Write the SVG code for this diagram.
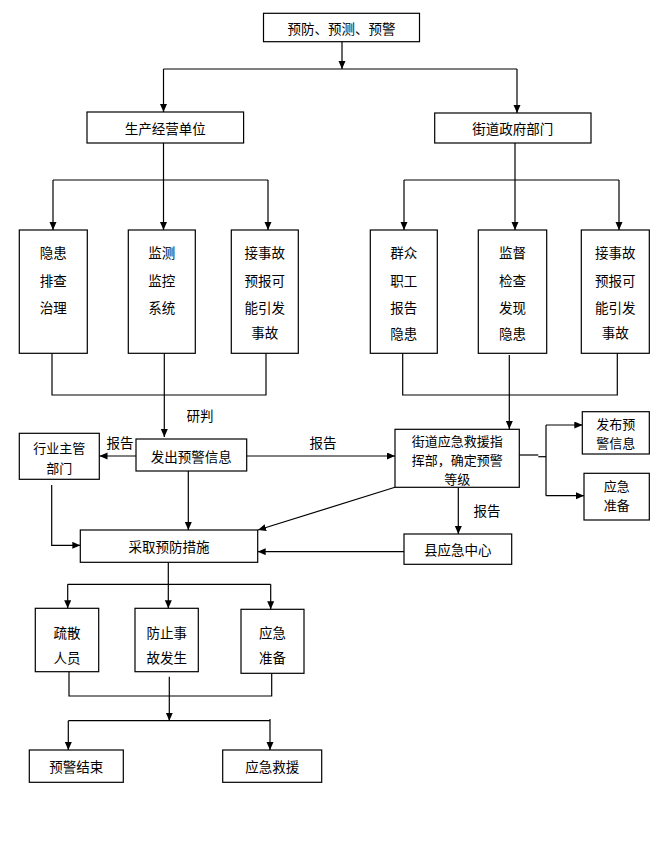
<svg xmlns="http://www.w3.org/2000/svg" width="664" height="866" viewBox="0 0 664 866">
<defs>
<marker id="arr" markerUnits="userSpaceOnUse" markerWidth="8" markerHeight="8" refX="8" refY="3.5" orient="auto">
<path d="M0,0 L8,3.5 L0,7 z" fill="#000"/>
</marker>
<style>
rect{fill:#fff;stroke:#000;stroke-width:1.2}
text{font-family:"Noto Sans CJK SC","Noto Sans",sans-serif;font-size:13.5px;fill:#000;text-anchor:middle;dominant-baseline:central}
text.s{font-size:13px}
.c line,.c polyline{stroke:#000;stroke-width:1.2;fill:none}
.a{marker-end:url(#arr)}
</style>
</defs>
<rect x="0" y="0" width="664" height="866" style="stroke:none"/>
<g id="connectors" class="c">
<line class="a" x1="342" y1="41" x2="342" y2="69"/>
<line x1="163.5" y1="69" x2="517" y2="69"/>
<line class="a" x1="163.5" y1="69" x2="163.5" y2="112"/>
<line class="a" x1="517" y1="69" x2="517" y2="113"/>
<line x1="163.5" y1="143" x2="163.5" y2="180"/>
<line x1="53" y1="180" x2="268" y2="180"/>
<line class="a" x1="53" y1="180" x2="53" y2="230"/>
<line class="a" x1="163.5" y1="180" x2="163.5" y2="230"/>
<line class="a" x1="268" y1="180" x2="268" y2="230"/>
<line x1="515" y1="143" x2="515" y2="180"/>
<line x1="404" y1="180" x2="619" y2="180"/>
<line class="a" x1="404" y1="180" x2="404" y2="230"/>
<line class="a" x1="515" y1="180" x2="515" y2="230"/>
<line class="a" x1="619" y1="180" x2="619" y2="230"/>
<polyline points="52,353 52,395 266,395 266,353"/>
<line class="a" x1="164.3" y1="353" x2="164.3" y2="437"/>
<polyline points="402.7,353 402.7,395 617.3,395 617.3,353"/>
<line class="a" x1="509.3" y1="355" x2="509.3" y2="429"/>
<line class="a" x1="136" y1="456" x2="99.5" y2="456"/>
<line class="a" x1="246.7" y1="456" x2="395" y2="456"/>
<line class="a" x1="188.3" y1="471" x2="188.3" y2="530"/>
<polyline class="a" points="51.7,485 51.7,545.3 80.3,545.3"/>
<line class="a" x1="395" y1="487.3" x2="258" y2="530"/>
<line class="a" x1="404" y1="551.7" x2="257.7" y2="551.7"/>
<line class="a" x1="458.3" y1="487.3" x2="458.3" y2="534"/>
<line x1="519.3" y1="455" x2="538.3" y2="455"/>
<line x1="538.3" y1="456.7" x2="546" y2="456.7"/>
<line x1="546" y1="425" x2="546" y2="495.7"/>
<line class="a" x1="546" y1="425" x2="582.3" y2="425"/>
<line class="a" x1="546" y1="495.7" x2="584" y2="495.7"/>
<line x1="168.3" y1="562.3" x2="168.3" y2="584.3"/>
<line x1="67.7" y1="584.3" x2="270.7" y2="584.3"/>
<line class="a" x1="67.7" y1="584.3" x2="67.7" y2="608.3"/>
<line class="a" x1="168.3" y1="584.3" x2="168.3" y2="608.3"/>
<line class="a" x1="270.7" y1="584.3" x2="270.7" y2="609.3"/>
<polyline points="69,672 69,696 271.7,696 271.7,673.3"/>
<line class="a" x1="169.3" y1="676.7" x2="169.3" y2="720.7"/>
<line x1="68.3" y1="720.7" x2="270" y2="720.7"/>
<line class="a" x1="68.3" y1="720.7" x2="68.3" y2="750"/>
<line class="a" x1="270" y1="719" x2="270" y2="750"/>
</g>
<g id="labels">
<text x="200" y="415">研判</text>
<text x="120" y="442">报告</text>
<text x="323" y="442">报告</text>
<text x="487" y="510">报告</text>
</g>
<g id="n-top"><rect x="263.5" y="13.3" width="156" height="28.4"/><text x="341.5" y="27.5">预防、预测、预警</text></g>
<g id="n-scjy"><rect x="87" y="112" width="156.6" height="31"/><text x="165.3" y="127.5">生产经营单位</text></g>
<g id="n-jdzf"><rect x="434.7" y="113" width="156.3" height="30"/><text x="512.8" y="128">街道政府部门</text></g>
<g id="n-yh"><rect x="19.3" y="230" width="68" height="123.3"/><text><tspan x="53.3" y="252.3">隐患</tspan><tspan x="53.3" y="280">排查</tspan><tspan x="53.3" y="306.7">治理</tspan></text></g>
<g id="n-jc"><rect x="128.3" y="230" width="67" height="123.3"/><text><tspan x="161.8" y="252.3">监测</tspan><tspan x="161.8" y="280">监控</tspan><tspan x="161.8" y="306.7">系统</tspan></text></g>
<g id="n-jsg1"><rect x="231.3" y="230" width="67" height="123.3"/><text><tspan x="264.8" y="252.3">接事故</tspan><tspan x="264.8" y="280">预报可</tspan><tspan x="264.8" y="306.7">能引发</tspan><tspan x="264.8" y="332">事故</tspan></text></g>
<g id="n-qz"><rect x="370.3" y="230" width="67" height="123.3"/><text><tspan x="403.8" y="252.3">群众</tspan><tspan x="403.8" y="280">职工</tspan><tspan x="403.8" y="306.7">报告</tspan><tspan x="403.8" y="332.5">隐患</tspan></text></g>
<g id="n-jd"><rect x="478.3" y="230" width="68.4" height="123.3"/><text><tspan x="512.5" y="252.3">监督</tspan><tspan x="512.5" y="280">检查</tspan><tspan x="512.5" y="306.7">发现</tspan><tspan x="512.5" y="332.5">隐患</tspan></text></g>
<g id="n-jsg2"><rect x="581.3" y="230" width="68" height="123.3"/><text><tspan x="615.3" y="252.3">接事故</tspan><tspan x="615.3" y="280">预报可</tspan><tspan x="615.3" y="306.7">能引发</tspan><tspan x="615.3" y="332">事故</tspan></text></g>
<g id="n-hy"><rect x="19.3" y="433.3" width="80" height="46"/><text class="s"><tspan x="59.3" y="447">行业主管</tspan><tspan x="59.3" y="466.5">部门</tspan></text></g>
<g id="n-fc"><rect x="136" y="439" width="110.7" height="32"/><text x="191.3" y="455.5">发出预警信息</text></g>
<g id="n-jdyj"><rect x="395" y="429.3" width="124.3" height="58"/><text class="s"><tspan x="457.2" y="439.8">街道应急救援指</tspan><tspan x="457.2" y="458.8">挥部，确定预警</tspan><tspan x="457.2" y="477.6">等级</tspan></text></g>
<g id="n-fb"><rect x="582.3" y="411.7" width="67" height="42.3"/><text class="s"><tspan x="615.8" y="423">发布预</tspan><tspan x="615.8" y="442.2">警信息</tspan></text></g>
<g id="n-yjzb1"><rect x="584" y="473.3" width="65.3" height="46.7"/><text class="s"><tspan x="616.7" y="485.2">应急</tspan><tspan x="616.7" y="504.4">准备</tspan></text></g>
<g id="n-cq"><rect x="80.3" y="530" width="177.4" height="32.3"/><text x="169" y="546">采取预防措施</text></g>
<g id="n-x"><rect x="404" y="534" width="107.7" height="30.3"/><text x="457.8" y="549">县应急中心</text></g>
<g id="n-ss"><rect x="35.3" y="608.3" width="63.4" height="63.4"/><text><tspan x="67" y="631.7">疏散</tspan><tspan x="67" y="657.3">人员</tspan></text></g>
<g id="n-fz"><rect x="135" y="608.3" width="63.3" height="63.4"/><text><tspan x="166.7" y="631.7">防止事</tspan><tspan x="166.7" y="657.3">故发生</tspan></text></g>
<g id="n-yjzb2"><rect x="241" y="609.3" width="63" height="64"/><text><tspan x="272.5" y="631.7">应急</tspan><tspan x="272.5" y="657.3">准备</tspan></text></g>
<g id="n-yjjs"><rect x="29.3" y="750" width="94" height="32.3"/><text x="76.3" y="766">预警结束</text></g>
<g id="n-yjjy"><rect x="222.7" y="750" width="99" height="32.3"/><text x="272.2" y="766">应急救援</text></g>
</svg>
